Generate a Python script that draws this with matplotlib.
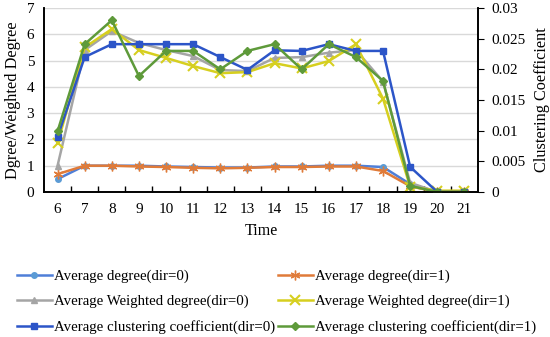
import numpy as np
import matplotlib
matplotlib.use('Agg')
import matplotlib.pyplot as plt

plt.rcParams['font.family'] = ['Liberation Serif', 'DejaVu Serif']

hours = [6, 7, 8, 9, 10, 11, 12, 13, 14, 15, 16, 17, 18, 19, 20, 21]

# left axis: degree / weighted degree
deg_dir0 = [0.49, 1.0, 1.0, 1.0, 0.97, 0.95, 0.93, 0.93, 0.97, 0.97, 1.0, 1.0, 0.95, 0.30, 0.0, 0.0]
deg_dir1 = [0.68, 1.0, 1.0, 0.97, 0.95, 0.92, 0.90, 0.92, 0.95, 0.95, 0.97, 0.97, 0.80, 0.22, 0.0, 0.0]
wdeg_dir0 = [1.0, 5.40, 6.12, 5.67, 5.40, 5.17, 4.64, 4.60, 5.10, 5.13, 5.30, 5.40, 4.20, 0.35, 0.0, 0.0]
wdeg_dir1 = [1.85, 5.50, 6.20, 5.40, 5.10, 4.79, 4.52, 4.56, 4.90, 4.70, 4.98, 5.62, 3.55, 0.20, 0.05, 0.05]

# right axis: clustering coefficient
clus_dir0 = [0.0090, 0.0220, 0.0241, 0.0241, 0.0241, 0.0241, 0.0220, 0.0199, 0.0231,
             0.0230, 0.0241, 0.0230, 0.0230, 0.0041, 0.0, 0.0]
clus_dir1 = [0.0099, 0.0241, 0.0280, 0.0189, 0.0230, 0.0230, 0.0200, 0.0230, 0.0241,
             0.0200, 0.0241, 0.0220, 0.0181, 0.0010, 0.0, 0.0]

fig = plt.figure(figsize=(5.5, 3.37), dpi=100)
ax = fig.add_axes([0.08, 0.4303, 0.789, 0.546])
ax2 = ax.twinx()

x = np.array(hours)
h0, = ax.plot(x, deg_dir0, color='#4F7FD8', lw=1.8, marker='o', ms=4,
              mfc='#5B9BD5', mec='#5B9BD5', label='Average degree(dir=0)')
h1, = ax.plot(x, deg_dir1, color='#E07B39', lw=1.8, marker=(6, 2, 0), ms=7,
              mec='#E07B39', label='Average degree(dir=1)')
h2, = ax.plot(x, wdeg_dir0, color='#A5A5A5', lw=1.8, marker='^', ms=4,
              label='Average Weighted degree(dir=0)')
h3, = ax.plot(x, wdeg_dir1, color='#D6CF1F', lw=1.8, marker='x', ms=7, mew=1.5,
              label='Average Weighted degree(dir=1)')
h4, = ax2.plot(x, clus_dir0, color='#2C55C8', lw=1.8, marker='s', ms=5,
               label='Average clustering coefficient(dir=0)')
h5, = ax2.plot(x, clus_dir1, color='#5E9A3A', lw=1.8, marker='D', ms=4,
               label='Average clustering coefficient(dir=1)')

ax.set_xlim(5.5, 21.5)
ax.set_ylim(0, 7)
ax.set_yticks(range(0, 8))
ax2.set_ylim(0, 0.03)
ax2.set_yticks([0, 0.005, 0.01, 0.015, 0.02, 0.025, 0.03])
ax2.set_yticklabels(['0', '0.005', '0.01', '0.015', '0.02', '0.025', '0.03'])

ax.set_xticks(hours)
ax.set_xticks(np.arange(6.5, 21.5, 1), minor=True)
ax.tick_params(axis='x', which='major', length=0, labelsize=11, pad=8)
ax.tick_params(axis='x', which='minor', length=4, direction='in', width=1)
ax.tick_params(axis='y', length=0, labelsize=11, pad=7)
ax2.tick_params(axis='y', length=4, direction='out', labelsize=11, pad=6)

ax.yaxis.grid(True, color='#D9D9D9', lw=1)
ax.set_axisbelow(True)
for a in (ax, ax2):
    a.spines['top'].set_visible(False)
    for s in ('left', 'bottom', 'right'):
        a.spines[s].set_linewidth(1.2)
        a.spines[s].set_color('black')

ax.set_xlabel('Time', fontsize=11.5, labelpad=5)
ax.set_ylabel('Dgree/Weighted Degree', fontsize=11.7, labelpad=4)
ax2.set_ylabel('Clustering Coefficient', fontsize=11.7, labelpad=6)

handles = [h0, h2, h4, h1, h3, h5]
fig.legend(handles=handles, labels=[h.get_label() for h in handles],
           loc='upper left', bbox_to_anchor=(17 / 550, 0.200), ncol=2, frameon=False,
           fontsize=10.7, handlelength=2.35, handletextpad=0.13, columnspacing=0.2,
           labelspacing=0.78, borderpad=0, borderaxespad=0)

fig.savefig('out.png', dpi=100)
